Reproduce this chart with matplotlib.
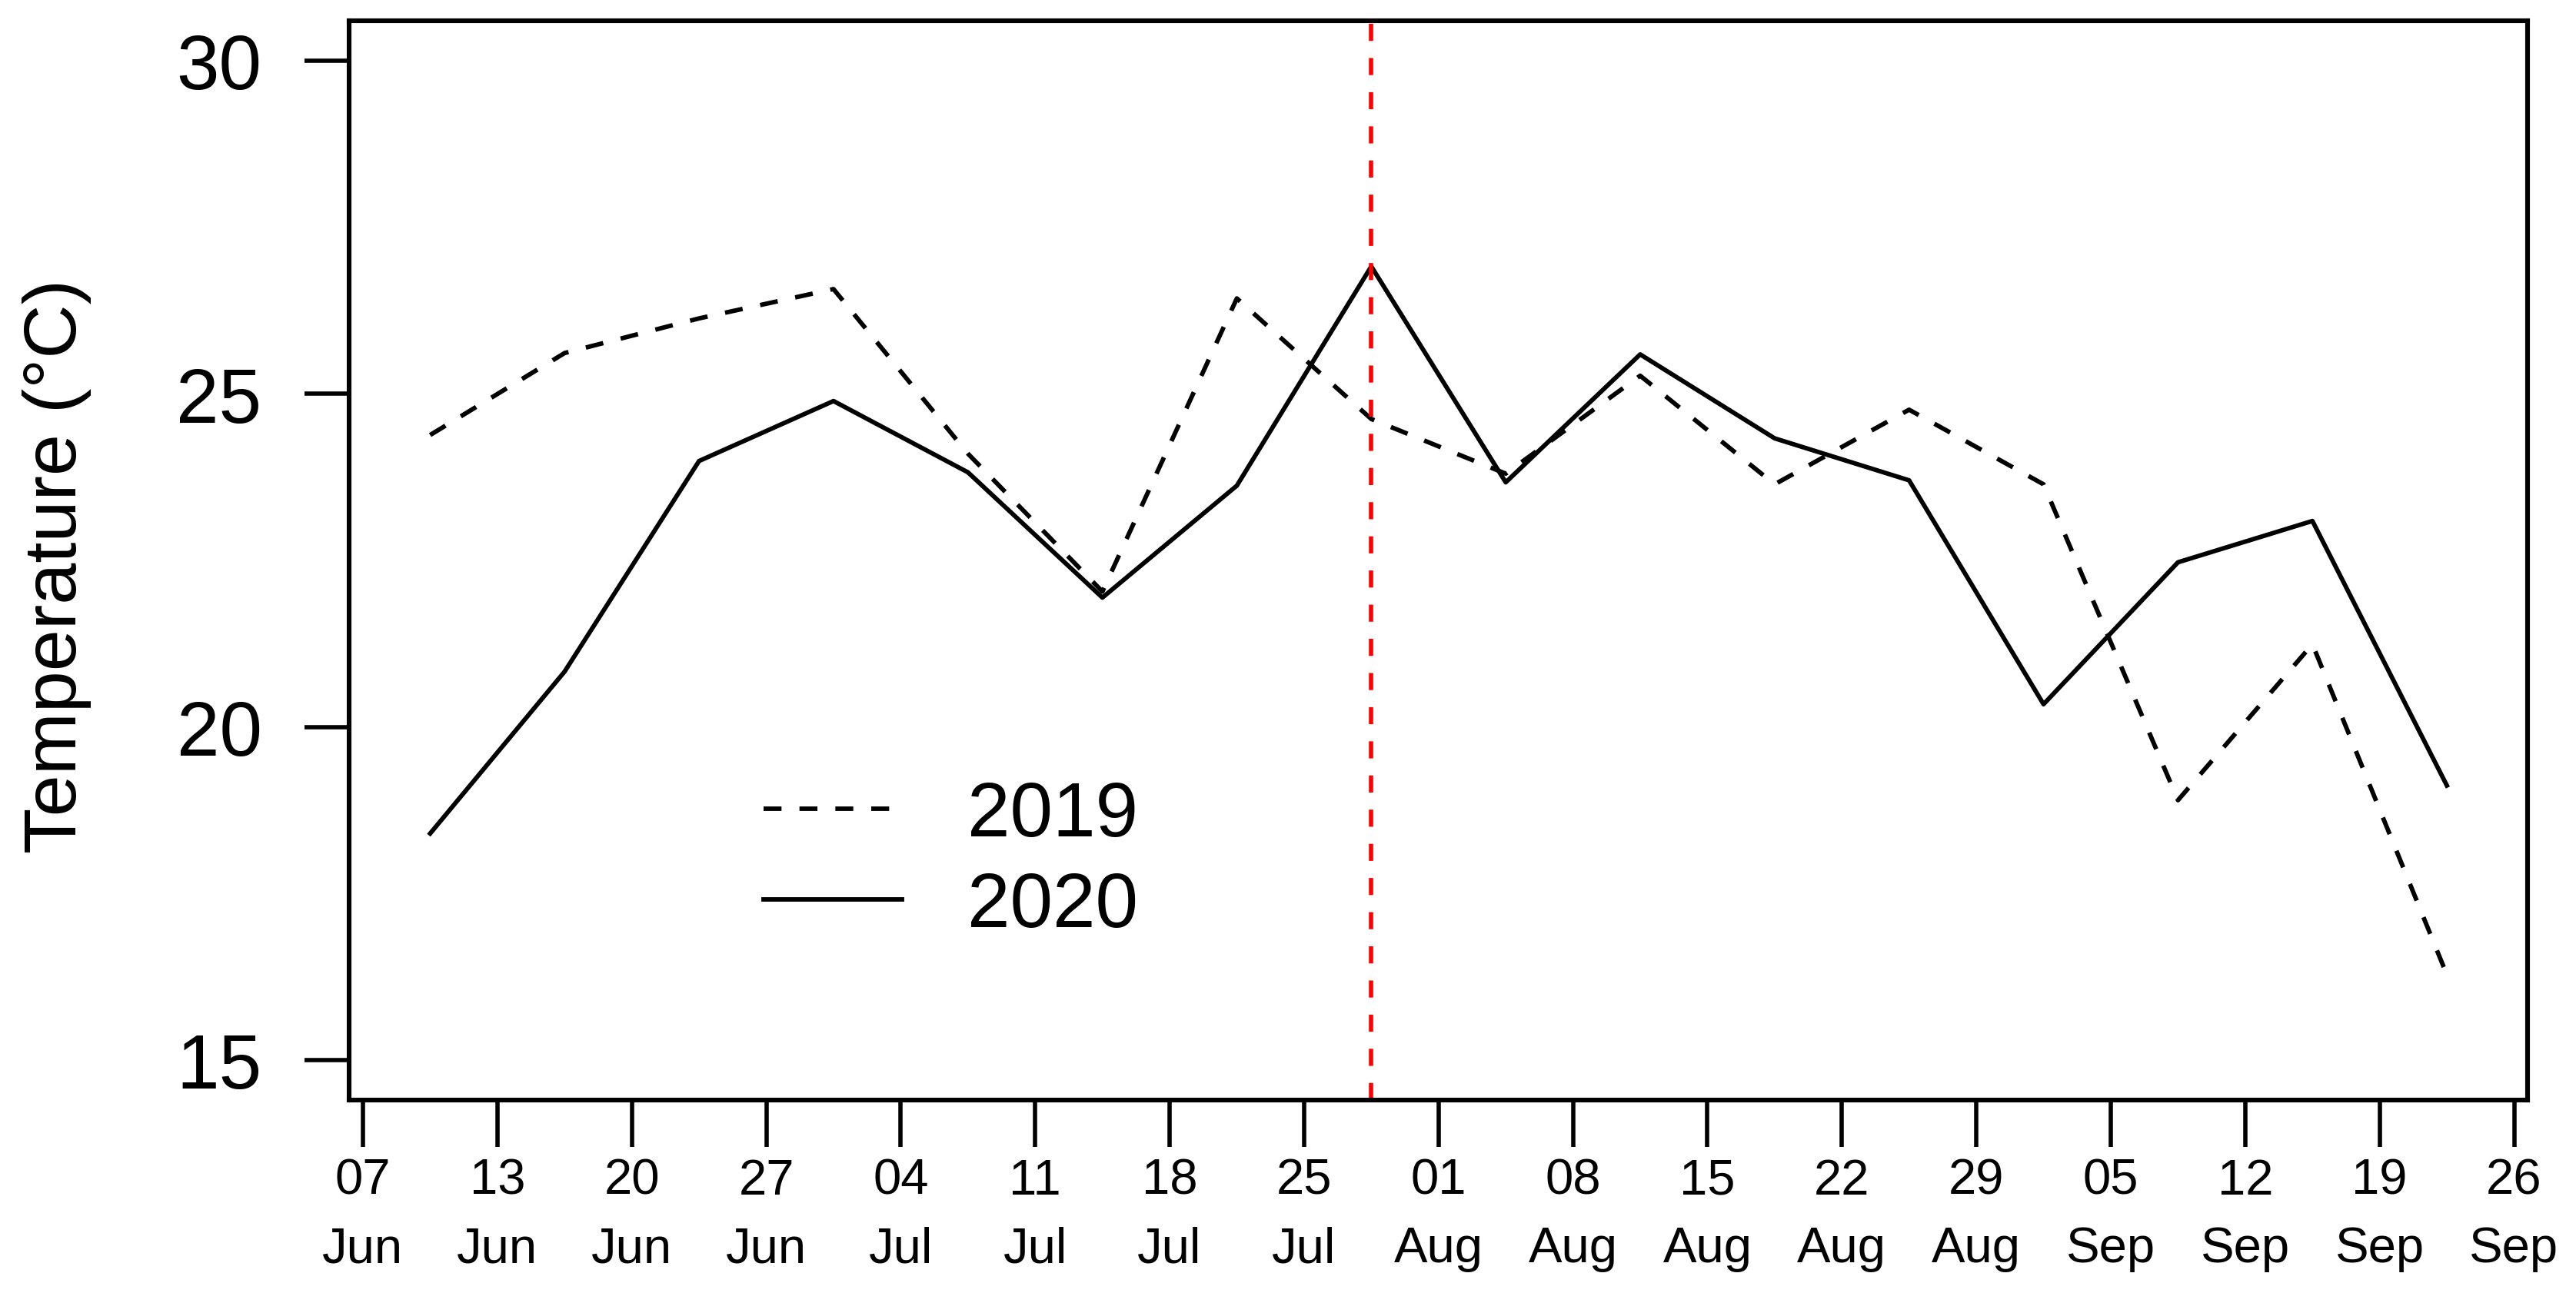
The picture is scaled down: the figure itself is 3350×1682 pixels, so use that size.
import matplotlib
matplotlib.use("Agg")
import matplotlib.pyplot as plt

plt.rcParams['font.family'] = ['Liberation Sans', 'DejaVu Sans']

# week positions (tick i = week i), points sit mid-week
weeks = [0.5, 1.5, 2.5, 3.5, 4.5, 5.5, 6.5, 7.5,
         8.5, 9.5, 10.5, 11.5, 12.5, 13.5, 14.5, 15.5]
temp_2019 = [24.38, 25.61, 26.13, 26.57, 24.10, 22.03, 26.43, 24.62,
             23.80, 25.27, 23.64, 24.76, 23.64, 18.90, 21.24, 16.28]
temp_2020 = [18.40, 20.83, 23.99, 24.89, 23.82, 21.94, 23.62, 26.91,
             23.67, 25.59, 24.33, 23.70, 20.34, 22.47, 23.09, 19.12]
event_week = 7.5

tick_pos = list(range(17))
tick_labels = ["07\nJun", "13\nJun", "20\nJun", "27\nJun", "04\nJul", "11\nJul",
               "18\nJul", "25\nJul", "01\nAug", "08\nAug", "15\nAug", "22\nAug",
               "29\nAug", "05\nSep", "12\nSep", "19\nSep", "26\nSep"]
y_ticks = [15, 20, 25, 30]

fig = plt.figure(figsize=(16.75, 8.415), dpi=200)
ax = fig.add_axes([0.13567, 0.14914, 0.84552, 0.83440])

l19, = ax.plot(weeks, temp_2019, color="black", lw=2.1, linestyle=(0, (4, 4)))
l20, = ax.plot(weeks, temp_2020, color="black", lw=2.1)
ax.axvline(event_week, color="red", lw=2.0, linestyle=(0, (4, 4)))

ax.set_xlim(-0.1, 16.1)
ax.set_ylim(14.4, 30.6)

ax.set_xticks(tick_pos)
ax.set_xticklabels(tick_labels, fontsize=23.5, linespacing=1.6)
ax.set_yticks(y_ticks)
ax.set_yticklabels([str(v) for v in y_ticks], fontsize=36)
ax.tick_params(axis='x', length=22, width=2.0, pad=5)
ax.tick_params(axis='y', length=21, width=2.0, pad=20)

for s in ax.spines.values():
    s.set_linewidth(2.2)

ax.set_ylabel("Temperature (°C)", fontsize=35)
ax.yaxis.set_label_coords(-0.1343, 0.495)
ax.yaxis.label.set_verticalalignment('center')

ax.legend([l19, l20], ["2019", "2020"], loc='center left',
          bbox_to_anchor=(0.190, 0.2215), frameon=False, fontsize=36,
          handlelength=1.8, handletextpad=0.85, labelspacing=0.24,
          borderpad=0, borderaxespad=0)

fig.savefig("out.png", dpi=200)
